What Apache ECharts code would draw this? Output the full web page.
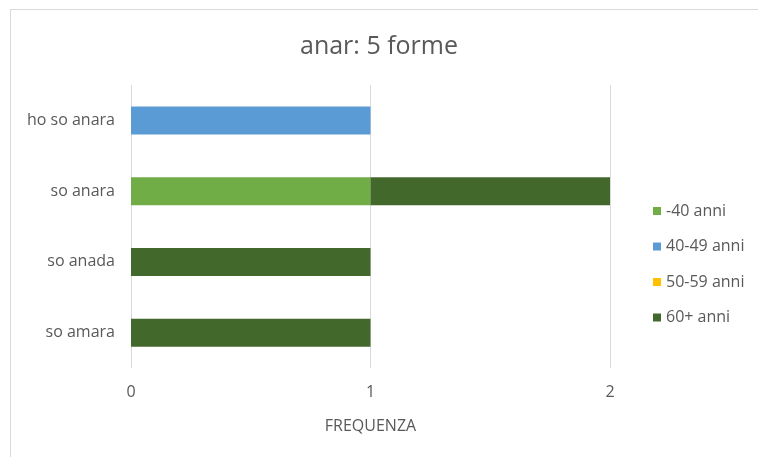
<!DOCTYPE html>
<html>
<head>
<meta charset="utf-8">
<script src="https://cdn.jsdelivr.net/npm/echarts@6/dist/echarts.min.js"></script>
<style>
  html, body { margin: 0; padding: 0; background: #fff; }
  #chart { width: 758px; height: 457px; }
</style>
</head>
<body>
<div id="chart"></div>
<script>
const categories = ["so amara", "so anada", "so anara", "ho so anara"];
const seriesNames = ["-40 anni", "40-49 anni", "50-59 anni", "60+ anni"];
const under40 = [0, 0, 1, 0];
const from40to49 = [0, 0, 0, 1];
const from50to59 = [0, 0, 0, 0];
const over60 = [1, 1, 1, 0];
const xTicks = [0, 1, 2];
const colors = ["#70AD47", "#5B9BD5", "#FFC000", "#43682B"];

const textColor = "#595959";
const font = "'Open Sans', 'Liberation Sans', sans-serif";

const chart = echarts.init(document.getElementById("chart"), null, { renderer: "canvas" });

const values = [under40, from40to49, from50to59, over60];

chart.setOption({
  animation: false,
  color: colors,
  title: {
    text: "anar: 5 forme",
    left: "center",
    top: 29,
    textStyle: { color: textColor, fontSize: 25, fontWeight: "normal", fontFamily: font }
  },
  graphic: [{
    type: "rect",
    shape: { x: 10.5, y: 9.5, width: 760, height: 460 },
    style: { fill: null, stroke: "#d9d9d9", lineWidth: 1 },
    silent: true
  }],
  legend: {
    orient: "vertical",
    left: 648,
    top: 198,
    itemWidth: 8,
    itemHeight: 8,
    itemGap: 19.5,
    icon: "rect",
    data: seriesNames,
    textStyle: { color: textColor, fontSize: 16, fontFamily: font }
  },
  grid: { left: 131, right: 148, top: 85, bottom: 89, containLabel: false },
  xAxis: {
    type: "value",
    min: 0,
    max: xTicks[xTicks.length - 1],
    interval: 1,
    name: "FREQUENZA",
    nameLocation: "middle",
    nameGap: 50,
    nameTextStyle: { color: textColor, fontSize: 16, fontFamily: font },
    axisLine: { show: false },
    axisTick: { show: false },
    axisLabel: { color: textColor, fontSize: 16, fontFamily: font, margin: 16 },
    splitLine: { show: true, lineStyle: { color: "#d9d9d9", width: 1 } }
  },
  yAxis: {
    type: "category",
    data: categories,
    axisLine: { show: false },
    axisTick: { show: false },
    axisLabel: { color: textColor, fontSize: 16, fontFamily: font, margin: 16 }
  },
  series: seriesNames.map((name, i) => ({
    name: name,
    type: "bar",
    stack: "total",
    barWidth: 28,
    data: values[i].map(v => (v === 0 ? null : v)),
    itemStyle: { color: colors[i] }
  }))
});
</script>
</body>
</html>
